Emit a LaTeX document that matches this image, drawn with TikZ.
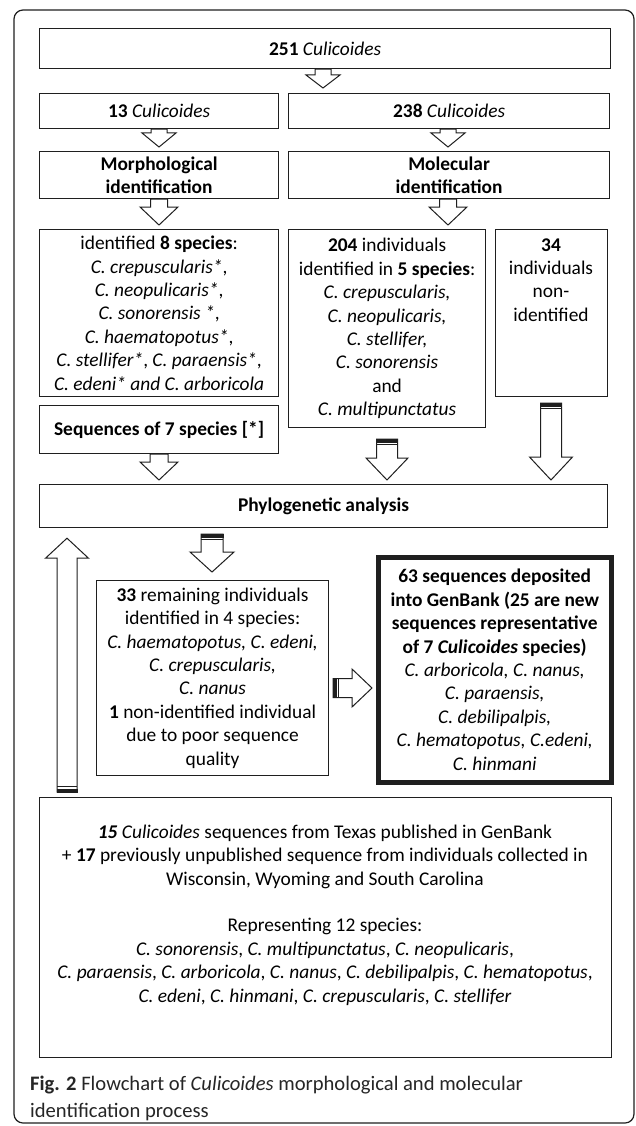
\documentclass[tikz,border=0pt]{standalone}
\usepackage{fontspec}
\setmainfont{Carlito}
\usetikzlibrary{calc}
\newcommand{\boxfont}{\fontsize{19.4}{23.4}\selectfont}
\newcommand{\capfont}{\fontsize{20.6}{27}\selectfont}
% plain down block arrow: #1 from, #2 to, #3 x, #4 shaft half, #5 head half, #6 head length, #7 tip gap
\newcommand{\DownArrow}[7]{%
 \draw[ba] let \p1=#1, \p2=#2 in
   (#3pt-#4pt,\y1) -- (#3pt+#4pt,\y1) -- (#3pt+#4pt,\y2+#7pt+#6pt) -- (#3pt+#5pt,\y2+#7pt+#6pt)
   -- (#3pt,\y2+#7pt) -- (#3pt-#5pt,\y2+#7pt+#6pt) -- (#3pt-#4pt,\y2+#7pt+#6pt) -- cycle;}
% striped down block arrow: #8 start gap
\newcommand{\SDownArrow}[8]{%
 \draw[ba] let \p1=#1, \p2=#2 in
   (#3pt-#4pt,\y1-#8pt) -- (#3pt+#4pt,\y1-#8pt) -- (#3pt+#4pt,\y2+#7pt+#6pt) -- (#3pt+#5pt,\y2+#7pt+#6pt)
   -- (#3pt,\y2+#7pt) -- (#3pt-#5pt,\y2+#7pt+#6pt) -- (#3pt-#4pt,\y2+#7pt+#6pt) -- cycle;
 \fill[stripe] let \p1=#1 in (#3pt-#4pt-0.5pt,\y1-#8pt+0.5pt) rectangle (#3pt+#4pt+0.5pt,\y1-#8pt-3.5pt);
 \draw[stripe,line width=1.3pt] let \p1=#1 in (#3pt-#4pt,\y1-#8pt-5.5pt) -- (#3pt+#4pt,\y1-#8pt-5.5pt);}
\begin{document}
\begin{tikzpicture}[x=1pt,y=-1pt,
  box/.style={draw=black!88, line width=1.2pt, fill=white, inner sep=0pt, anchor=north west, align=center, font=\boxfont},
  txt/.style={inner sep=0pt, align=center, font=\boxfont},
  ba/.style={draw=black!88, line width=1pt, fill=white, line join=miter},
  stripe/.style={black!88},
  capnode/.style={inner sep=0pt, anchor=base west, font=\capfont, text=black!85},
]
\fill[white] (0,0) rectangle (635,1126);
\useasboundingbox (0,0) rectangle (635,1126);
\draw[black!88, line width=1.2pt, rounded corners=9pt] (14,10) rectangle (634,1123);

\node[box, minimum width=571pt, minimum height=40pt] (b251) at (39,28) {\textbf{251} \textit{Culicoides}};
\node[box, minimum width=239pt, minimum height=35pt] (b13) at (39,93) {\textbf{13} \textit{Culicoides}};
\node[box, minimum width=321pt, minimum height=35pt] (b238) at (288,93) {\textbf{238} \textit{Culicoides}};
\node[box, minimum width=239pt, minimum height=47pt] (morph) at (39,151) {\textbf{Morphological}\\\textbf{identification}};
\node[box, minimum width=321pt, minimum height=47pt] (molec) at (288,151) {\textbf{Molecular}\\\textbf{identification}};
\node[box, minimum width=239pt, minimum height=167pt] (b8) at (39,229) {identified \textbf{8 species}:\\\textit{C. crepuscularis*},\\\textit{C. neopulicaris*},\\\textit{C. sonorensis *},\\\textit{C. haematopotus*},\\\textit{C. stellifer*}, \textit{C. paraensis*},\\\textit{C. edeni* and C. arboricola}};
\node[box, minimum width=197pt, minimum height=198pt] (b204) at (288,229) {\textbf{204} individuals\\identified in \textbf{5 species}:\\\textit{C. crepuscularis,}\\\textit{C. neopulicaris,}\\\textit{C. stellifer,}\\\textit{C. sonorensis}\\and\\\textit{C. multipunctatus}};
\node[box, minimum width=112pt, minimum height=167pt] (b34) at (495,229) {};
\node[txt] (b34t) at (551,280) {\textbf{34}\\individuals\\non-\\identified};
\node[box, minimum width=239pt, minimum height=48pt] (seq) at (39,405) {\textbf{Sequences of 7 species [*]}};
\node[box, minimum width=568pt, minimum height=43pt] (phylo) at (39,484) {\textbf{Phylogenetic analysis}};
\node[box, minimum width=232pt, minimum height=195pt] (b33) at (96,580) {\textbf{33} remaining individuals\\identified in 4 species:\\\textit{C. haematopotus, C. edeni,}\\\textit{C. crepuscularis,}\\\textit{C. nanus}\\\textbf{1} non-identified individual\\due to poor sequence\\quality};
\node[box, line width=4.5pt, minimum width=233pt, minimum height=225pt] (b63) at (376,555) {\textbf{63 sequences deposited}\\\textbf{into GenBank (25 are new}\\\textbf{sequences representative}\\\textbf{of 7 \textit{Culicoides} species)}\\\textit{C. arboricola, C. nanus,}\\\textit{C. paraensis,}\\\textit{C. debilipalpis,}\\\textit{C. hematopotus, C.edeni,}\\\textit{C. hinmani}};
\node[box, minimum width=572pt, minimum height=260pt] (bottom) at (39,797) {};
\node[txt] (bottomt) at (325,915) {\textbf{\textit{15}} \textit{Culicoides} sequences from Texas published in GenBank\\+ \textbf{17} previously unpublished sequence from individuals collected in\\Wisconsin, Wyoming and South Carolina\\[23.4pt]Representing 12 species:\\\textit{C. sonorensis}, \textit{C. multipunctatus}, \textit{C. neopulicaris},\\\textit{C. paraensis}, \textit{C. arboricola}, \textit{C. nanus}, \textit{C. debilipalpis}, \textit{C. hematopotus},\\\textit{C. edeni}, \textit{C. hinmani}, \textit{C. crepuscularis}, \textit{C. stellifer}};
\node[capnode] (cap1) at (30,1090) {\textbf{Fig. 2} Flowchart of \textit{Culicoides} morphological and molecular};
\node[capnode] (cap2) at (30,1117) {identification process};

% arrows
\DownArrow{(b251.south)}{(b238.north)}{323}{8}{17}{13}{5}
\DownArrow{(b13.south)}{(morph.north)}{159}{8}{17}{14}{4}
\DownArrow{(b238.south)}{(molec.north)}{448}{8}{17}{14}{4}
\DownArrow{(morph.south)}{(b8.north)}{159}{8.5}{19}{18}{4}
\DownArrow{(molec.south)}{(b204.north)}{448}{8.5}{19}{18}{4}
\DownArrow{(seq.south)}{(phylo.north)}{159}{9}{19}{18}{4}
\SDownArrow{(b204.south)}{(phylo.north)}{387}{10.5}{21}{22}{4}{11}
\SDownArrow{(b34.south)}{(phylo.north)}{551}{10.5}{21.5}{23}{4}{6}
\SDownArrow{(phylo.south)}{(b33.north)}{212}{11}{22}{20}{8}{6}

% up arrow from bottom box to phylogenetic analysis
\draw[ba] let \p1=(bottom.north), \p2=(phylo.south) in
  (57pt,\y1+5pt) -- (77pt,\y1+5pt) -- (77pt,\y2-30pt) -- (88.5pt,\y2-30pt) -- (67pt,\y2-10pt)
  -- (45.5pt,\y2-30pt) -- (57pt,\y2-30pt) -- cycle;
\fill[stripe] let \p1=(bottom.north) in (56.5pt,\y1+4.5pt) rectangle (77.5pt,\y1+8.5pt);
\draw[stripe, line width=1.3pt] let \p1=(bottom.north) in (57pt,\y1+10.5pt) -- (77pt,\y1+10.5pt);

% right arrow from 33 box to 63 box
\draw[ba] let \p1=(b33.east), \p2=(b63.west) in
  (\x1+4pt,-678.5pt) -- (\x2-24pt,-678.5pt) -- (\x2-24pt,-669pt) -- (\x2-4pt,-688pt)
  -- (\x2-24pt,-707pt) -- (\x2-24pt,-697.5pt) -- (\x1+4pt,-697.5pt) -- cycle;
\fill[stripe] let \p1=(b33.east) in (\x1+3.5pt,-678pt) rectangle (\x1+7.5pt,-698pt);
\draw[stripe, line width=1.3pt] let \p1=(b33.east) in (\x1+9.5pt,-678.5pt) -- (\x1+9.5pt,-697.5pt);
\end{tikzpicture}
\end{document}
